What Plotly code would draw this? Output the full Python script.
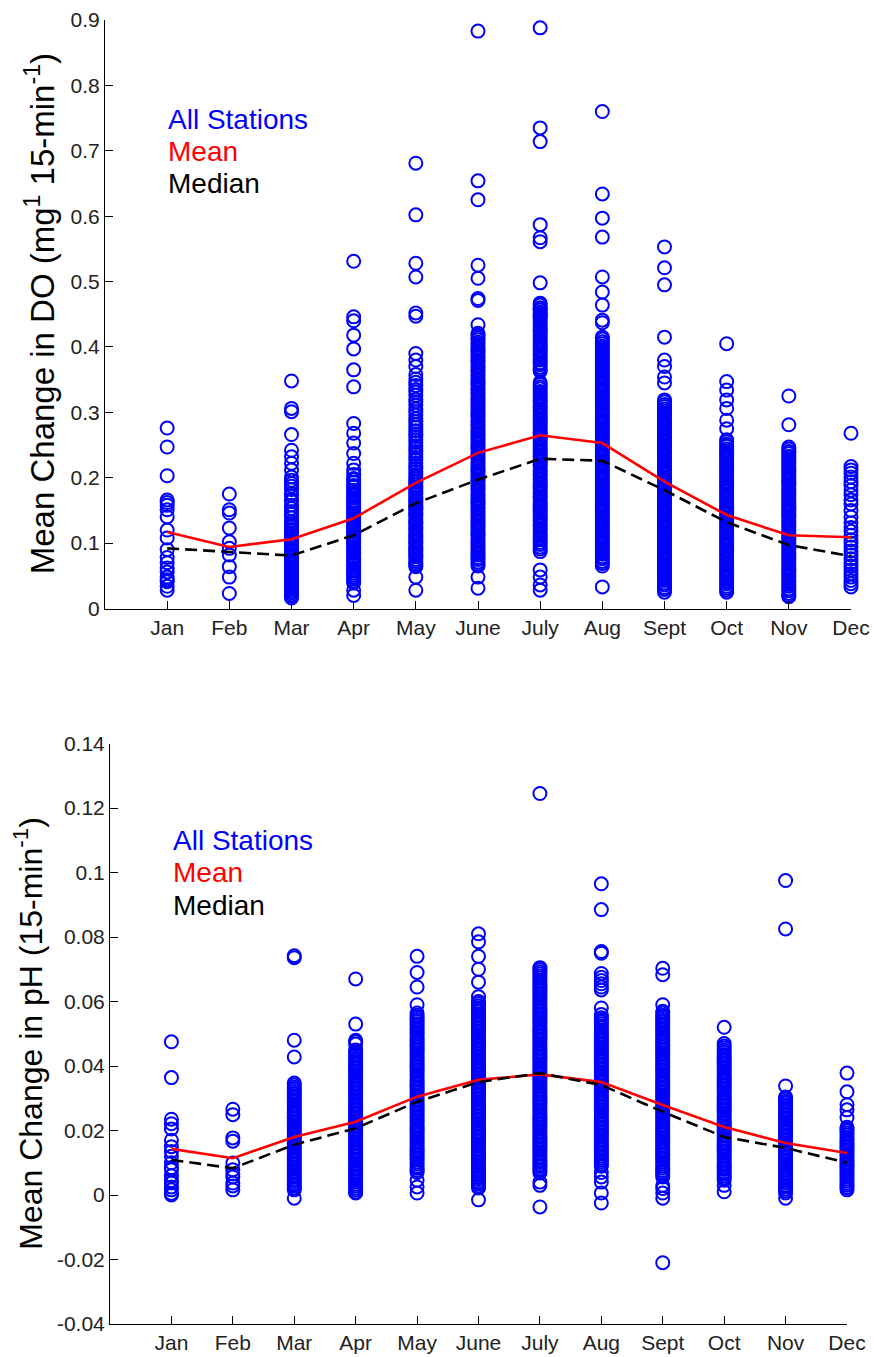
import plotly.graph_objects as go

months = ["Jan", "Feb", "Mar", "Apr", "May", "June", "July", "Aug", "Sept", "Oct", "Nov", "Dec"]

# ---- Mean change in DO per station, values in thousandths (mg l-1 15-min-1) ----
do_jan = [276, 247, 203, 166, 162, 158, 151, 140, 120, 108, 90, 78, 70, 62, 56, 48, 44, 41, 34, 28]
do_feb = [175, 151, 146, 123, 102, 92, 82, 64, 48, 23]
do_mar = [348, 306, 301, 266, 242, 232, 222, 212, 201, 196, 191, 187, 182, 176, 173, 167, 164, 158, 153,
          148, 144, 139, 133, 130, 127, 125, 121, 119, 116, 112, 110, 108, 104, 101, 99, 97, 93, 90, 89,
          86, 82, 80, 78, 75, 72, 70, 67, 64, 62, 59, 56, 53, 51, 49, 46, 43, 40, 38, 35, 32, 30, 27, 24,
          21, 19, 16]
do_apr = [531, 446, 440, 418, 397, 365, 339, 283, 268, 253, 237, 222, 212, 205, 199, 197, 193, 188, 186,
          181, 179, 175, 172, 169, 165, 163, 159, 156, 154, 150, 146, 144, 141, 137, 134, 132, 128, 125,
          122, 119, 117, 113, 110, 108, 104, 101, 99, 95, 92, 90, 86, 84, 80, 77, 75, 71, 68, 66, 62, 59,
          57, 54, 51, 48, 45, 42, 39, 28, 20]
do_may = [681, 602, 528, 507, 452, 447, 390, 380, 370, 358, 351, 346, 341, 335, 331, 326, 320, 316, 311,
          305, 301, 296, 290, 286, 281, 277, 272, 267, 263, 258, 254, 249, 245, 240, 236, 231, 227, 222,
          218, 214, 209, 205, 201, 198, 195, 193, 189, 186, 184, 180, 177, 175, 171, 168, 165, 163, 159,
          156, 153, 151, 147, 144, 142, 138, 135, 132, 130, 126, 123, 121, 117, 114, 111, 109, 105, 102,
          100, 96, 93, 90, 88, 84, 81, 79, 75, 72, 69, 67, 64, 48, 28]
do_jun = [883, 654, 625, 525, 505, 474, 471, 434, 421, 418, 414, 411, 407, 404, 400, 397, 393, 390, 386,
          383, 379, 376, 372, 369, 365, 362, 358, 355, 351, 348, 344, 341, 337, 334, 330, 327, 323, 320,
          316, 313, 309, 306, 302, 299, 295, 292, 288, 285, 281, 278, 274, 271, 267, 264, 260, 257, 253,
          250, 246, 243, 239, 236, 232, 229, 225, 222, 218, 215, 211, 208, 204, 201, 197, 194, 190, 187,
          183, 180, 176, 173, 169, 166, 162, 159, 155, 152, 148, 145, 141, 138, 134, 131, 127, 124, 120,
          117, 113, 110, 106, 103, 99, 96, 92, 89, 85, 82, 78, 75, 71, 68, 65, 48, 31]
do_jul = [888, 735, 714, 587, 567, 561, 498, 457, 449, 467, 464, 460, 457, 453, 450, 446, 443, 439, 436,
          432, 429, 425, 422, 418, 415, 411, 408, 404, 401, 397, 394, 390, 387, 383, 380, 376, 373, 369,
          366, 363, 346, 343, 339, 336, 332, 329, 325, 322, 318, 315, 311, 308, 304, 301, 297, 294, 290,
          287, 283, 280, 276, 273, 269, 266, 262, 259, 255, 252, 248, 245, 241, 238, 234, 231, 227, 224,
          220, 217, 213, 210, 206, 203, 199, 196, 192, 189, 185, 182, 178, 175, 171, 168, 164, 161, 157,
          154, 150, 147, 143, 140, 136, 133, 129, 126, 122, 119, 115, 112, 108, 105, 101, 98, 94, 91, 87,
          59, 48, 36, 28]
do_aug = [760, 634, 597, 568, 507, 484, 464, 441, 437, 415, 412, 408, 405, 401, 398, 394, 391, 387, 384,
          380, 377, 373, 370, 366, 363, 359, 356, 352, 349, 345, 342, 338, 335, 331, 328, 324, 321, 317,
          314, 310, 307, 303, 300, 296, 293, 289, 286, 282, 279, 275, 272, 268, 265, 261, 258, 254, 251,
          247, 244, 240, 237, 233, 230, 226, 223, 219, 216, 212, 209, 205, 202, 198, 195, 191, 188, 184,
          181, 177, 174, 170, 167, 163, 160, 156, 153, 149, 146, 142, 139, 135, 132, 128, 125, 121, 118,
          114, 111, 107, 104, 100, 97, 93, 90, 86, 83, 79, 76, 72, 69, 65, 33]
do_sep = [553, 521, 495, 415, 380, 370, 354, 345, 319, 316, 312, 309, 305, 302, 298, 295, 291, 288, 284,
          281, 277, 274, 270, 267, 263, 260, 256, 253, 249, 246, 242, 239, 235, 232, 228, 225, 221, 218,
          214, 211, 207, 204, 200, 197, 193, 190, 186, 183, 179, 176, 172, 169, 165, 162, 158, 155, 151,
          148, 144, 141, 137, 134, 130, 127, 123, 120, 116, 113, 109, 106, 102, 99, 95, 92, 88, 85, 81,
          78, 74, 71, 67, 64, 60, 57, 53, 50, 46, 43, 39, 36, 32, 29, 25]
do_oct = [405, 347, 334, 319, 306, 288, 275, 258, 255, 251, 248, 244, 241, 237, 234, 230, 227, 223, 220,
          216, 213, 209, 206, 202, 199, 195, 192, 188, 185, 181, 178, 174, 171, 167, 164, 160, 157, 153,
          150, 146, 143, 139, 136, 132, 129, 125, 122, 118, 115, 111, 108, 104, 101, 97, 94, 90, 87, 83,
          80, 76, 73, 69, 66, 62, 59, 55, 52, 48, 45, 41, 38, 34, 31, 28, 25]
do_nov = [325, 281, 247, 244, 240, 237, 233, 230, 226, 223, 219, 216, 212, 209, 205, 202, 198, 195, 191,
          188, 184, 181, 177, 174, 170, 167, 163, 160, 156, 153, 149, 146, 142, 139, 135, 132, 128, 125,
          121, 118, 114, 111, 107, 104, 100, 97, 93, 90, 86, 83, 79, 76, 72, 69, 65, 62, 58, 55, 51, 48,
          44, 41, 37, 34, 30, 27, 23, 20, 18]
do_dec = [268, 217, 212, 207, 201, 194, 188, 181, 174, 166, 160, 150, 140, 131, 124, 118, 112, 105, 100,
          94, 88, 82, 76, 70, 65, 59, 53, 48, 43, 38, 33]
do_mean = [117, 94, 106, 138, 192, 238, 265, 253, 194, 143, 112, 109]
do_median = [92, 87, 81, 112, 161, 197, 229, 226, 181, 132, 97, 80]

# ---- Mean change in pH per station, values in ten-thousandths (15-min-1) ----
ph_jan = [475, 364, 235, 221, 205, 170, 150, 135, 120, 100, 85, 78, 60, 45, 37, 25, 16, 5, 0]
ph_feb = [266, 249, 177, 167, 99, 78, 65, 56, 37, 28, 16]
ph_mar = [742, 736, 480, 428, 347, 341, 334, 328, 321, 315, 308, 302, 295, 289, 282, 276, 269, 263, 256,
          250, 243, 237, 230, 224, 217, 211, 204, 198, 191, 185, 178, 172, 165, 159, 152, 146, 139, 133,
          126, 120, 113, 107, 100, 94, 87, 81, 74, 68, 61, 55, 48, 42, 35, 29, 22, 16, -10]
ph_apr = [670, 530, 480, 475, 468, 450, 444, 437, 431, 424, 418, 411, 405, 398, 392, 385, 379, 372, 366,
          359, 353, 346, 340, 333, 327, 320, 314, 307, 301, 294, 288, 281, 275, 268, 262, 255, 249, 242,
          236, 229, 223, 216, 210, 203, 197, 190, 184, 177, 171, 164, 158, 151, 145, 138, 132, 125, 119,
          112, 106, 99, 93, 86, 80, 73, 67, 60, 54, 47, 41, 34, 28, 21, 15, 8, 6]
ph_may = [740, 690, 645, 590, 564, 557, 551, 544, 538, 531, 525, 518, 512, 505, 499, 492, 486, 479, 473,
          466, 460, 453, 447, 440, 434, 427, 421, 414, 408, 401, 395, 388, 382, 375, 369, 362, 356, 349,
          343, 336, 330, 323, 317, 310, 304, 297, 291, 284, 278, 271, 265, 258, 252, 245, 239, 232, 226,
          219, 213, 206, 200, 193, 187, 180, 174, 167, 161, 154, 148, 141, 135, 128, 122, 115, 109, 102,
          96, 89, 83, 76, 70, 46, 25, 6]
ph_jun = [810, 785, 740, 700, 660, 615, 600, 594, 587, 581, 574, 568, 561, 555, 548, 542, 535, 529, 522,
          516, 509, 503, 496, 490, 483, 477, 470, 464, 457, 451, 444, 438, 431, 425, 418, 412, 405, 399,
          392, 386, 379, 373, 366, 360, 353, 347, 340, 334, 327, 321, 314, 308, 301, 295, 288, 282, 275,
          269, 262, 256, 249, 243, 236, 230, 223, 217, 210, 204, 197, 191, 184, 178, 171, 165, 158, 152,
          145, 139, 132, 126, 119, 113, 106, 100, 93, 87, 80, 74, 67, 61, 54, 48, 41, 35, 28, 22, -15]
ph_jul = [1245, 705, 699, 692, 686, 679, 673, 666, 660, 653, 647, 640, 634, 627, 621, 614, 608, 601, 595,
          588, 582, 575, 569, 562, 556, 549, 543, 536, 530, 523, 517, 510, 504, 497, 491, 484, 478, 471,
          465, 458, 452, 445, 439, 432, 426, 419, 413, 406, 400, 393, 387, 380, 374, 367, 361, 354, 348,
          341, 335, 328, 322, 315, 309, 302, 296, 289, 283, 276, 270, 263, 257, 250, 244, 237, 231, 224,
          218, 211, 205, 198, 192, 185, 179, 172, 166, 159, 153, 146, 140, 133, 127, 120, 114, 107, 101,
          94, 88, 81, 75, 68, 40, 30, -37]
ph_aug = [965, 885, 755, 750, 687, 675, 665, 655, 645, 636, 580, 560, 550, 544, 537, 531, 524, 518, 511,
          505, 498, 492, 485, 479, 472, 466, 459, 453, 446, 440, 433, 427, 420, 414, 407, 401, 394, 388,
          381, 375, 368, 362, 355, 349, 342, 336, 329, 323, 316, 310, 303, 297, 290, 284, 277, 271, 264,
          258, 251, 245, 238, 232, 225, 219, 212, 206, 199, 193, 186, 180, 173, 167, 160, 154, 147, 141,
          134, 128, 121, 115, 108, 102, 95, 89, 70, 56, 40, 6, -25]
ph_sep = [703, 683, 590, 570, 564, 557, 551, 544, 538, 531, 525, 518, 512, 505, 499, 492, 486, 479, 473,
          466, 460, 453, 447, 440, 434, 427, 421, 414, 408, 401, 395, 388, 382, 375, 369, 362, 356, 349,
          343, 336, 330, 323, 317, 310, 304, 297, 291, 284, 278, 271, 265, 258, 252, 245, 239, 232, 226,
          219, 213, 206, 200, 193, 187, 180, 174, 167, 161, 154, 148, 141, 135, 128, 122, 115, 109, 102,
          96, 89, 83, 76, 70, 63, 56, 30, 20, 6, -10, -210]
ph_oct = [520, 470, 462, 456, 449, 443, 436, 430, 423, 417, 410, 404, 397, 391, 384, 378, 371, 365, 358,
          352, 345, 339, 332, 326, 319, 313, 306, 300, 293, 287, 280, 274, 267, 261, 254, 248, 241, 235,
          228, 222, 215, 209, 202, 196, 189, 183, 176, 170, 163, 157, 150, 144, 137, 131, 124, 118, 111,
          105, 98, 92, 85, 79, 72, 66, 59, 53, 46, 30, 10]
ph_nov = [975, 825, 338, 304, 298, 291, 285, 278, 272, 265, 259, 252, 246, 239, 233, 226, 220, 213, 207,
          200, 194, 187, 181, 174, 168, 161, 155, 148, 142, 135, 129, 122, 116, 109, 103, 96, 90, 83, 77,
          70, 64, 57, 51, 44, 38, 31, 25, 18, 12, 6, -10]
ph_dec = [378, 320, 280, 264, 240, 210, 205, 199, 192, 186, 179, 173, 166, 160, 153, 147, 140, 134, 127,
          121, 114, 108, 101, 95, 88, 82, 75, 69, 62, 56, 49, 43, 36, 30, 23, 16]
ph_mean = [143, 114, 180, 227, 305, 357, 374, 350, 279, 211, 161, 130]
ph_median = [109, 83, 156, 207, 289, 350, 378, 341, 258, 180, 146, 100]

do_all = [do_jan, do_feb, do_mar, do_apr, do_may, do_jun, do_jul, do_aug, do_sep, do_oct, do_nov, do_dec]
ph_all = [ph_jan, ph_feb, ph_mar, ph_apr, ph_may, ph_jun, ph_jul, ph_aug, ph_sep, ph_oct, ph_nov, ph_dec]

W, H = 874, 1357
FONT = "Liberation Sans, Arial, sans-serif"
BLUE, RED = "#0000FF", "#FF0000"

fig = go.Figure()


def add_panel(groups, scale, mean, median, xa, ya):
    xs, ys = [], []
    for i, vals in enumerate(groups):
        xs += [i + 1] * len(vals)
        ys += [v / scale for v in vals]
    fig.add_trace(go.Scatter(x=xs, y=ys, mode="markers", xaxis=xa, yaxis=ya, showlegend=False,
                             cliponaxis=False,
                             marker=dict(symbol="circle-open", size=13, color=BLUE, line=dict(width=2))))
    mx = list(range(1, 13))
    fig.add_trace(go.Scatter(x=mx, y=[v / scale for v in mean], mode="lines", xaxis=xa, yaxis=ya,
                             showlegend=False, line=dict(color=RED, width=2.6)))
    fig.add_trace(go.Scatter(x=mx, y=[v / scale for v in median], mode="lines", xaxis=xa, yaxis=ya,
                             showlegend=False, line=dict(color="black", width=2.6, dash="12px,6px")))


add_panel(do_all, 1000, do_mean, do_median, "x", "y")
add_panel(ph_all, 10000, ph_mean, ph_median, "x2", "y2")

# pixel-based geometry
top_x = (105, 851); top_y = (20, 608.5)
bot_x = (110, 847); bot_y = (743.5, 1324)

def px_dom_x(a, b):
    return [a / W, b / W]

def px_dom_y(t, b):
    return [1 - b / H, 1 - t / H]

axis_common = dict(showline=True, linecolor="black", linewidth=1, ticks="inside", ticklen=8,
                   tickcolor="black", tickwidth=1, showgrid=False, zeroline=False, mirror=False,
                   tickfont=dict(family=FONT, size=21, color="#222"), automargin=False, fixedrange=True)

do_ticks = [0, 0.1, 0.2, 0.3, 0.4, 0.5, 0.6, 0.7, 0.8, 0.9]
do_ticktext = ["0", "0.1", "0.2", "0.3", "0.4", "0.5", "0.6", "0.7", "0.8", "0.9"]
ph_ticks = [-0.04, -0.02, 0, 0.02, 0.04, 0.06, 0.08, 0.1, 0.12, 0.14]
ph_ticktext = ["-0.04", "-0.02", "0", "0.02", "0.04", "0.06", "0.08", "0.1", "0.12", "0.14"]

fig.update_layout(
    width=W, height=H, margin=dict(l=0, r=0, t=0, b=0),
    paper_bgcolor="white", plot_bgcolor="white", showlegend=False,
    font=dict(family=FONT),
    xaxis=dict(axis_common, domain=px_dom_x(*top_x), range=[0, 12], tickvals=list(range(1, 13)),
               ticktext=months, anchor="y"),
    yaxis=dict(axis_common, domain=px_dom_y(*top_y), range=[0, 0.9], tickvals=do_ticks,
               ticktext=do_ticktext, anchor="x"),
    xaxis2=dict(axis_common, domain=px_dom_x(*bot_x), range=[0, 12], tickvals=list(range(1, 13)),
                ticktext=months, anchor="y2"),
    yaxis2=dict(axis_common, domain=px_dom_y(*bot_y), range=[-0.04, 0.14], tickvals=ph_ticks,
                ticktext=ph_ticktext, anchor="x2"),
)

ann = []
def text_at(txt, x, y, color, size=28, angle=0, xanchor="left"):
    ann.append(dict(text=txt, x=x / W, y=1 - y / H, xref="paper", yref="paper", showarrow=False,
                    xanchor=xanchor, yanchor="middle", textangle=angle,
                    font=dict(family=FONT, size=size, color=color)))

text_at("Mean Change in DO (mg<sup>1</sup> 15-min<sup>-1</sup>)", 40, (top_y[0] + top_y[1]) / 2, "black",
        size=33, angle=-90, xanchor="center")
text_at("Mean Change in pH (15-min<sup>-1</sup>)", 28, (bot_y[0] + bot_y[1]) / 2, "black",
        size=32, angle=-90, xanchor="center")

text_at("All Stations", 166, 119, BLUE)
text_at("Mean", 166, 151.5, RED)
text_at("Median", 166, 184, "black")
text_at("All Stations", 171, 840, BLUE)
text_at("Mean", 171, 872.5, RED)
text_at("Median", 171, 905, "black")

fig.update_layout(annotations=ann)
fig.write_html("out.html")
